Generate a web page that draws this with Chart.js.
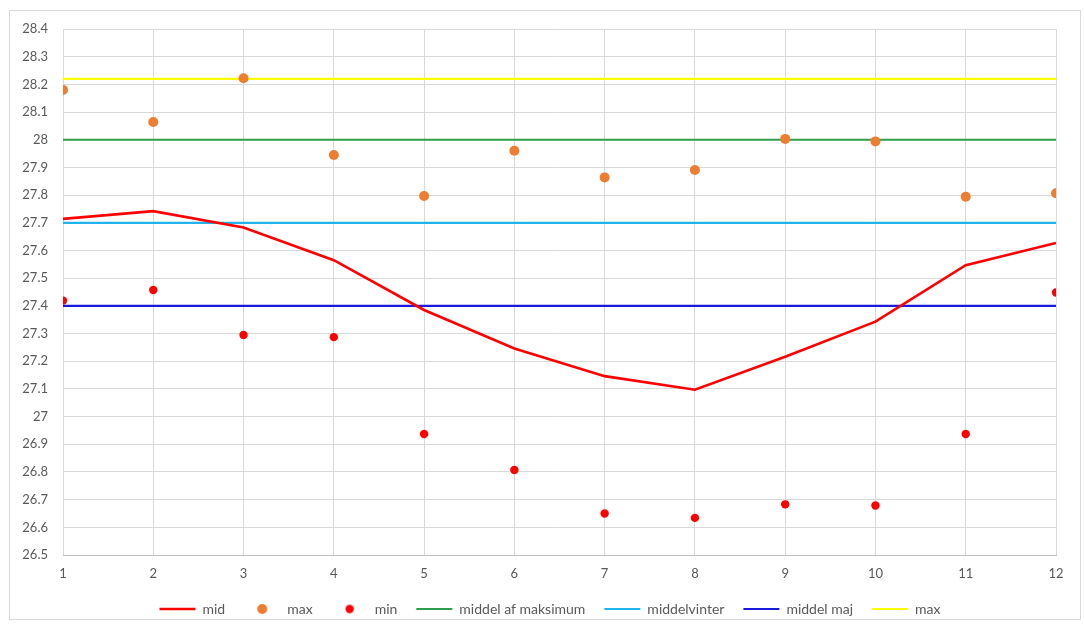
<!DOCTYPE html>
<html><head><meta charset="utf-8">
<script src="https://cdn.jsdelivr.net/npm/chart.js@4.4.1/dist/chart.umd.min.js"></script>
<style>
html,body{margin:0;padding:0;background:#fff;overflow:hidden;}
#frame{position:absolute;left:9px;top:10px;width:1070px;height:608px;border:1px solid #d9d9d9;pointer-events:none;}
#wrap{position:absolute;left:10px;top:11px;width:1080px;height:615px;}
canvas{display:block;}
</style></head><body>
<div id="wrap"><canvas id="c"></canvas></div>
<div id="frame"></div>
<script>
// ---- data ----
const months = [1,2,3,4,5,6,7,8,9,10,11,12];
const midValues = [27.714,27.742,27.683,27.565,27.385,27.246,27.146,27.097,27.216,27.343,27.547,27.627];
const maxValues = [28.180,28.064,28.222,27.945,27.797,27.960,27.864,27.891,28.003,27.994,27.794,27.807];
const minValues = [27.419,27.457,27.295,27.287,26.937,26.807,26.650,26.634,26.683,26.679,26.937,27.448];
const refNames  = ['middel af maksimum','middelvinter','middel maj','max'];
const refValues = [28.0, 27.7, 27.4, 28.22];
const refColors = ['#2f9e4a','#1fb4ec','#1a1adf','#ffff00'];
const yMin = 26.5, yMax = 28.4, yStep = 0.1;

const pts = vals => months.map((m,i)=>({x:m,y:vals[i]}));
const flat = v => [{x:months[0],y:v},{x:months[months.length-1],y:v}];

const datasets = [
  {label:'mid', data:pts(midValues), showLine:true, borderColor:'#ff0000', backgroundColor:'#ff0000', borderWidth:2.6, pointRadius:0, order:2},
  {label:'max', data:pts(maxValues), showLine:false, backgroundColor:'#ed7d31', borderColor:'#ed7d31', borderWidth:0, pointRadius:5, order:1},
  {label:'min', data:pts(minValues), showLine:false, backgroundColor:'#ff0000', borderColor:'#ff0000', borderWidth:0, pointRadius:4.2, order:0},
];
refNames.forEach((n,i)=>datasets.push({label:n, data:flat(refValues[i]), showLine:true, borderColor:refColors[i], backgroundColor:refColors[i], borderWidth:2.2, pointRadius:0, order:3+i}));

function dotImage(color, r){
  const c=document.createElement('canvas'); c.width=36; c.height=Math.ceil(2*r+2);
  const g=c.getContext('2d'); g.fillStyle=color; g.beginPath(); g.arc(18,c.height/2,r,0,Math.PI*2); g.fill();
  return c;
}

new Chart(document.getElementById('c'), {
  type:'scatter',
  data:{datasets},
  options:{
    responsive:true, maintainAspectRatio:false, animation:false, events:[],
    layout:{padding:{left:0,right:0,top:18,bottom:0}},
    scales:{
      x:{type:'linear', min:1, max:12,
        ticks:{stepSize:1, color:'#595959', font:{family:'Lato',size:13}, padding:11},
        grid:{color:'#d9d9d9', drawTicks:false}, border:{color:'#bfbfbf'},
        afterFit:s=>{s.height=28; s.paddingLeft=0; s.paddingRight=0;}},
      y:{min:yMin, max:yMax,
        ticks:{stepSize:yStep, color:'#595959', font:{family:'Lato',size:13}, padding:15,
          callback:v=>String(Math.round(v*10)/10)},
        grid:{color:'#d9d9d9', drawTicks:false}, border:{display:false},
        afterFit:s=>{s.width=53; s.paddingTop=0; s.paddingBottom=0;}},
      yPad:{type:'linear', position:'right', min:0, max:1, display:true,
        grid:{display:false}, border:{display:false}, ticks:{display:false},
        afterFit:s=>{s.width=34; s.paddingTop=0; s.paddingBottom=0;}}
    },
    plugins:{
      tooltip:{enabled:false},
      legend:{position:'bottom',
        labels:{usePointStyle:true, pointStyleWidth:36, boxHeight:10, padding:19, color:'#595959',
          font:{family:'Lato',size:14},
          generateLabels:(chart)=>{
            const items=Chart.defaults.plugins.legend.labels.generateLabels(chart);
            items.forEach(it=>{
              const ds=chart.data.datasets[it.datasetIndex];
              if(ds.showLine){ it.pointStyle='line'; it.lineWidth=ds.borderWidth; it.strokeStyle=ds.borderColor; }
              else { it.pointStyle=dotImage(ds.backgroundColor, ds.pointRadius); }
            });
            items.sort((a,b)=>a.datasetIndex-b.datasetIndex);
            return items;
          }}}
    }
  }
});
</script>
</body></html>
